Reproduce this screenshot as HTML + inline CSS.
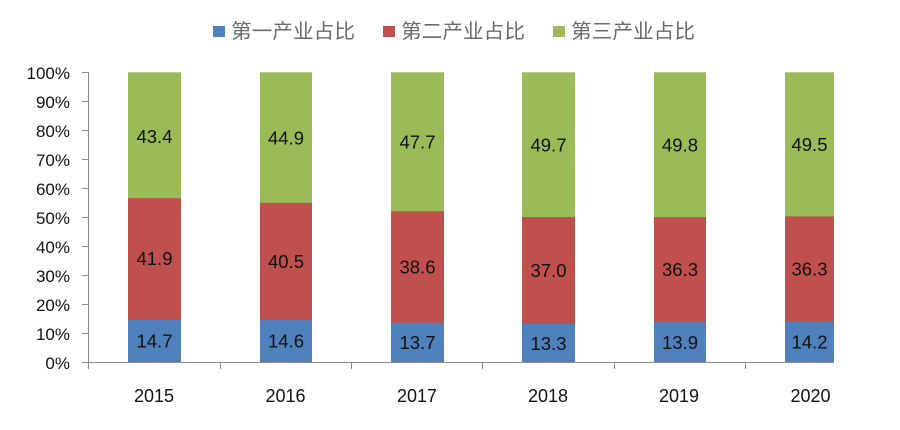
<!DOCTYPE html>
<html>
<head>
<meta charset="utf-8">
<style>
  html,body{margin:0;padding:0;background:#fff;}
  svg{display:block;}
  .ax{font-family:"Liberation Sans",sans-serif;font-size:17px;fill:#111;}
  .xl{font-family:"Liberation Sans",sans-serif;font-size:18px;fill:#111;}
  .dl{font-family:"Liberation Sans",sans-serif;font-size:18.5px;fill:#111;text-anchor:middle;}
  .lg{font-family:"Liberation Sans","Noto Sans CJK SC",sans-serif;font-size:20px;fill:#6a6a6a;}
</style>
</head>
<body>
<svg width="900" height="430" viewBox="0 0 900 430" xmlns="http://www.w3.org/2000/svg">
  <!-- Legend -->
  <rect x="213" y="26" width="12" height="11" fill="#4F81BD"/>
  <text class="lg" x="231" y="38" textLength="124" lengthAdjust="spacingAndGlyphs">第一产业占比</text>
  <rect x="383" y="26" width="12" height="11" fill="#C0504D"/>
  <text class="lg" x="401" y="38" textLength="124" lengthAdjust="spacingAndGlyphs">第二产业占比</text>
  <rect x="553" y="26" width="12" height="11" fill="#9BBB59"/>
  <text class="lg" x="571" y="38" textLength="124" lengthAdjust="spacingAndGlyphs">第三产业占比</text>

  <!-- Bars: y(p)=362.3-2.89*p ; layered to avoid seams -->
  <!-- 2015: 14.7, 41.9 -->
  <rect x="128" y="72.3" width="53" height="290" fill="#9BBB59"/>
  <rect x="128" y="198.2" width="53" height="164.1" fill="#C0504D"/>
  <rect x="128" y="319.8" width="53" height="42.5" fill="#4F81BD"/>
  <!-- 2016: 14.6, 40.5 -->
  <rect x="260" y="72.3" width="52" height="290" fill="#9BBB59"/>
  <rect x="260" y="202.8" width="52" height="159.5" fill="#C0504D"/>
  <rect x="260" y="320.1" width="52" height="42.2" fill="#4F81BD"/>
  <!-- 2017: 13.7, 38.6 -->
  <rect x="391" y="72.3" width="53" height="290" fill="#9BBB59"/>
  <rect x="391" y="211.2" width="53" height="151.1" fill="#C0504D"/>
  <rect x="391" y="322.7" width="53" height="39.6" fill="#4F81BD"/>
  <!-- 2018: 13.3, 37.0 -->
  <rect x="522" y="72.3" width="53" height="290" fill="#9BBB59"/>
  <rect x="522" y="217" width="53" height="145.3" fill="#C0504D"/>
  <rect x="522" y="323.9" width="53" height="38.4" fill="#4F81BD"/>
  <!-- 2019: 13.9, 36.3 -->
  <rect x="654" y="72.3" width="52" height="290" fill="#9BBB59"/>
  <rect x="654" y="217.2" width="52" height="145.1" fill="#C0504D"/>
  <rect x="654" y="322.1" width="52" height="40.2" fill="#4F81BD"/>
  <!-- 2020: 14.2, 36.3 -->
  <rect x="785" y="72.3" width="49" height="290" fill="#9BBB59"/>
  <rect x="785" y="216.4" width="49" height="145.9" fill="#C0504D"/>
  <rect x="785" y="321.3" width="49" height="41" fill="#4F81BD"/>

  <!-- Data labels -->
  <text class="dl" x="154.5" y="143">43.4</text>
  <text class="dl" x="154.5" y="265">41.9</text>
  <text class="dl" x="154.5" y="347.5">14.7</text>

  <text class="dl" x="286" y="144.5">44.9</text>
  <text class="dl" x="286" y="268">40.5</text>
  <text class="dl" x="286" y="347.5">14.6</text>

  <text class="dl" x="417.5" y="148.5">47.7</text>
  <text class="dl" x="417.5" y="273.5">38.6</text>
  <text class="dl" x="417.5" y="349">13.7</text>

  <text class="dl" x="548.5" y="151.5">49.7</text>
  <text class="dl" x="548.5" y="277">37.0</text>
  <text class="dl" x="548.5" y="350">13.3</text>

  <text class="dl" x="680" y="151.5">49.8</text>
  <text class="dl" x="680" y="276">36.3</text>
  <text class="dl" x="680" y="349">13.9</text>

  <text class="dl" x="809.5" y="151">49.5</text>
  <text class="dl" x="809.5" y="275.5">36.3</text>
  <text class="dl" x="809.5" y="348.5">14.2</text>

  <!-- Axes -->
  <g stroke="#8a8a8a" stroke-width="1" fill="none">
    <line x1="88.5" y1="72.3" x2="88.5" y2="362.5"/>
    <line x1="88.5" y1="362.5" x2="834" y2="362.5"/>
    <!-- y ticks -->
    <line x1="82" y1="72.5" x2="88.5" y2="72.5"/>
    <line x1="82" y1="101.5" x2="88.5" y2="101.5"/>
    <line x1="82" y1="130.5" x2="88.5" y2="130.5"/>
    <line x1="82" y1="159.5" x2="88.5" y2="159.5"/>
    <line x1="82" y1="188.5" x2="88.5" y2="188.5"/>
    <line x1="82" y1="217.5" x2="88.5" y2="217.5"/>
    <line x1="82" y1="246.5" x2="88.5" y2="246.5"/>
    <line x1="82" y1="275.5" x2="88.5" y2="275.5"/>
    <line x1="82" y1="304.5" x2="88.5" y2="304.5"/>
    <line x1="82" y1="333.5" x2="88.5" y2="333.5"/>
    <line x1="82" y1="362.5" x2="88.5" y2="362.5"/>
    <!-- x ticks -->
    <line x1="88.5" y1="362.5" x2="88.5" y2="369"/>
    <line x1="220.5" y1="362.5" x2="220.5" y2="369"/>
    <line x1="351.5" y1="362.5" x2="351.5" y2="369"/>
    <line x1="482.5" y1="362.5" x2="482.5" y2="369"/>
    <line x1="614.5" y1="362.5" x2="614.5" y2="369"/>
    <line x1="745.5" y1="362.5" x2="745.5" y2="369"/>
  </g>

  <!-- Y labels -->
  <g class="ax" text-anchor="end">
    <text x="70" y="79">100%</text>
    <text x="70" y="108">90%</text>
    <text x="70" y="137">80%</text>
    <text x="70" y="166">70%</text>
    <text x="70" y="195">60%</text>
    <text x="70" y="224">50%</text>
    <text x="70" y="253">40%</text>
    <text x="70" y="282">30%</text>
    <text x="70" y="311">20%</text>
    <text x="70" y="340">10%</text>
    <text x="70" y="369">0%</text>
  </g>

  <!-- X labels -->
  <g class="xl" text-anchor="middle">
    <text x="154" y="402">2015</text>
    <text x="285.5" y="402">2016</text>
    <text x="417" y="402">2017</text>
    <text x="548" y="402">2018</text>
    <text x="679" y="402">2019</text>
    <text x="810.5" y="402">2020</text>
  </g>
</svg>
</body>
</html>
